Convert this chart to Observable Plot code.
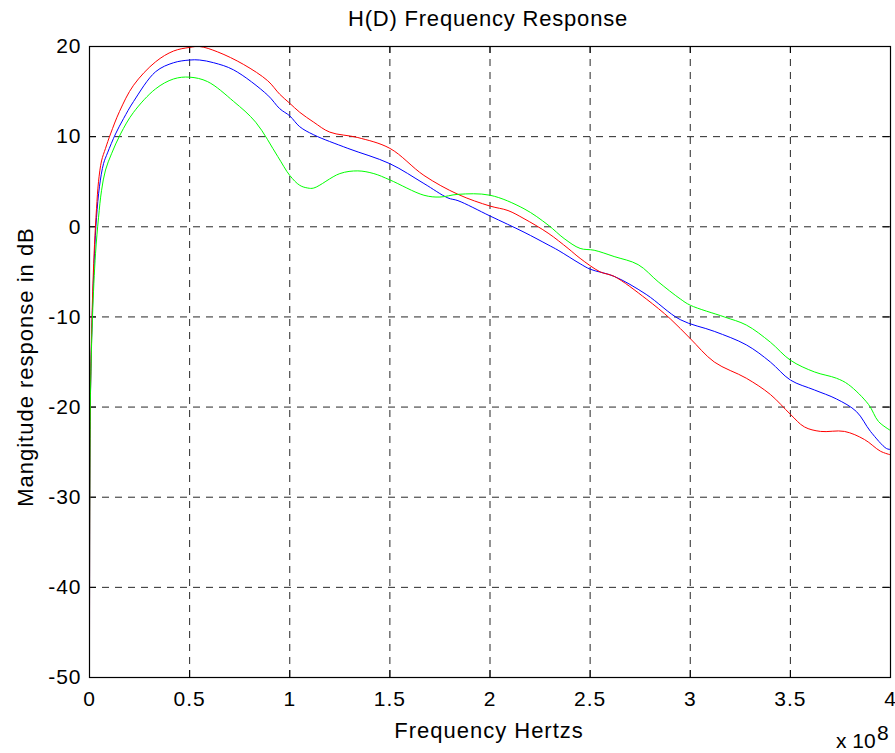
<!DOCTYPE html>
<html><head><meta charset="utf-8">
<script src="https://cdn.jsdelivr.net/npm/d3@7"></script>
<script src="https://cdn.jsdelivr.net/npm/@observablehq/plot@0.6"></script>
<style>body{margin:0;background:#fff} svg{display:block}</style>
</head><body><div id="chart"></div>
<script>
const title = "H(D) Frequency Response";
const xLabel = "Frequency Hertzs";
const yLabel = "Mangitude response in dB";
const xExponentBase = "x 10";
const xExponent = "8";
const xTicks = [0, 0.5, 1, 1.5, 2, 2.5, 3, 3.5, 4];
const yTicks = [-50, -40, -30, -20, -10, 0, 10, 20];

// frequency in units of 1e8 Hz, magnitude in dB
const blueFreq = [0, 0.004, 0.015, 0.025, 0.035, 0.05, 0.07, 0.09, 0.13, 0.17, 0.22, 0.33, 0.42, 0.5, 0.55, 0.62, 0.72, 0.89, 0.95, 1.0, 1.05, 1.12, 1.29, 1.5, 1.67, 1.79, 1.84, 2.0, 2.17, 2.29, 2.34, 2.45, 2.5, 2.62, 2.78, 2.95, 3.12, 3.28, 3.4, 3.5, 3.62, 3.73, 3.83, 3.9, 3.98, 4.0];
const blueDb   = [-50, -20, -9, -3, 1, 4.5, 7, 8.2, 10.3, 12, 13.9, 17.2, 18.2, 18.5, 18.5, 18.2, 17.4, 14.6, 13.1, 12.3, 11.1, 10.2, 8.7, 7.0, 4.8, 3.2, 2.9, 1.2, -0.6, -2.0, -2.6, -4.1, -4.7, -5.5, -7.5, -10.3, -11.6, -13.1, -15, -17, -18.1, -19.1, -20.5, -22.7, -24.6, -24.7];

const redFreq = [0, 0.004, 0.015, 0.025, 0.035, 0.045, 0.06, 0.08, 0.105, 0.15, 0.22, 0.33, 0.42, 0.5, 0.55, 0.64, 0.77, 0.89, 0.95, 1.0, 1.05, 1.12, 1.2, 1.34, 1.5, 1.67, 1.84, 2.0, 2.09, 2.17, 2.29, 2.39, 2.45, 2.55, 2.62, 2.78, 2.9, 3.0, 3.12, 3.28, 3.4, 3.5, 3.57, 3.65, 3.77, 3.87, 3.95, 4.0];
const redDb   = [-50, -20, -8, -2, 2, 5, 7.3, 8.7, 10.3, 12.8, 15.7, 18.3, 19.5, 19.9, 20, 19.4, 18, 16.2, 14.7, 13.7, 12.7, 11.6, 10.5, 9.9, 8.7, 5.7, 3.6, 2.3, 1.8, 0.9, -0.7, -2.4, -3.5, -5, -5.5, -8, -10.2, -12.4, -15, -16.8, -18.6, -20.8, -22.2, -22.7, -22.7, -23.6, -24.9, -25.3];

const greenFreq = [0, 0.004, 0.015, 0.03, 0.045, 0.06, 0.08, 0.11, 0.155, 0.22, 0.33, 0.42, 0.5, 0.59, 0.72, 0.83, 0.94, 1.0, 1.05, 1.09, 1.12, 1.25, 1.34, 1.42, 1.5, 1.67, 1.75, 1.84, 2.0, 2.17, 2.29, 2.37, 2.45, 2.52, 2.62, 2.74, 2.84, 2.95, 3.0, 3.17, 3.28, 3.4, 3.5, 3.62, 3.73, 3.79, 3.89, 3.94, 4.0];
const greenDb   = [-50, -20, -10, -3, 1, 4, 6.3, 8.1, 10.3, 12.7, 15.3, 16.4, 16.6, 16.1, 13.9, 11.6, 7.8, 5.7, 4.6, 4.3, 4.3, 5.9, 6.2, 5.9, 5.2, 3.5, 3.3, 3.6, 3.5, 2.0, 0.2, -1.3, -2.4, -2.6, -3.3, -4.2, -6.1, -8, -8.7, -10, -10.9, -12.8, -14.8, -16.1, -16.8, -17.5, -19.7, -21.6, -22.6];

const seriesNames = ["s1", "s2", "s3"];
const seriesColors = ["#0000ff", "#ff0000", "#00ff00"];
const seriesFreq = [blueFreq, redFreq, greenFreq];
const seriesDb = [blueDb, redDb, greenDb];

const data = seriesNames.flatMap((name, k) =>
  seriesFreq[k].map((f, i) => ({series: name, freq: f, db: seriesDb[k][i]})));

const W = 895, H = 753, mL = 89, mR = 5, mT = 46, mB = 76;
const plotH = H - mT - mB, plotW = W - mL - mR;
const font = "'Liberation Sans', Arial, Helvetica, sans-serif";
const fmt = d => String(d);

const chart = Plot.plot({
  width: W, height: H,
  marginLeft: mL, marginRight: mR, marginTop: mT, marginBottom: mB,
  style: {fontFamily: font, fontSize: "21px", background: "#fff", color: "#000", letterSpacing: "1px"},
  x: {domain: [0, 4], label: null},
  y: {domain: [-50, 20], label: null},
  color: {domain: seriesNames, range: seriesColors},
  marks: [
    Plot.gridX(xTicks, {stroke: "#000", strokeOpacity: 0.85, strokeDasharray: "7,6"}),
    Plot.gridY(yTicks, {stroke: "#000", strokeOpacity: 0.85, strokeDasharray: "7,6"}),
    Plot.ruleX(xTicks, {insetTop: plotH - 7, stroke: "#000"}),
    Plot.ruleX(xTicks, {insetBottom: plotH - 7, stroke: "#000"}),
    Plot.ruleY(yTicks, {insetRight: plotW - 7, stroke: "#000"}),
    Plot.ruleY(yTicks, {insetLeft: plotW - 7, stroke: "#000"}),
    Plot.line(data, {x: "freq", y: "db", z: "series", stroke: "series", strokeWidth: 1, curve: "catmull-rom", clip: true}),
    Plot.frame({stroke: "#000", strokeWidth: 1.2}),
    Plot.axisX(xTicks, {tickSize: 0, tickPadding: 14, tickFormat: fmt, fontSize: 21, label: null}),
    Plot.axisY(yTicks, {tickSize: 0, tickPadding: 8, tickFormat: fmt, fontSize: 21, label: null})
  ]
});

document.getElementById("chart").appendChild(chart);

const svg = d3.select(chart);
const g = svg.append("g").attr("font-family", font).attr("fill", "#000");
g.append("text").attr("x", 488).attr("y", 26).attr("text-anchor", "middle")
  .attr("font-size", 22).attr("letter-spacing", "0.8px").text(title);
g.append("text").attr("x", 489).attr("y", 738).attr("text-anchor", "middle")
  .attr("font-size", 22).attr("letter-spacing", "1px").text(xLabel);
g.append("text").attr("transform", `translate(33,367) rotate(-90)`)
  .attr("text-anchor", "middle").attr("font-size", 22).attr("letter-spacing", "1px").text(yLabel);
g.append("text").attr("x", 836).attr("y", 748).attr("text-anchor", "start")
  .attr("font-size", 21).attr("letter-spacing", "0px").text(xExponentBase);
g.append("text").attr("x", 877).attr("y", 740).attr("text-anchor", "start")
  .attr("font-size", 21).attr("letter-spacing", "0px").text(xExponent);
</script>
</body></html>
